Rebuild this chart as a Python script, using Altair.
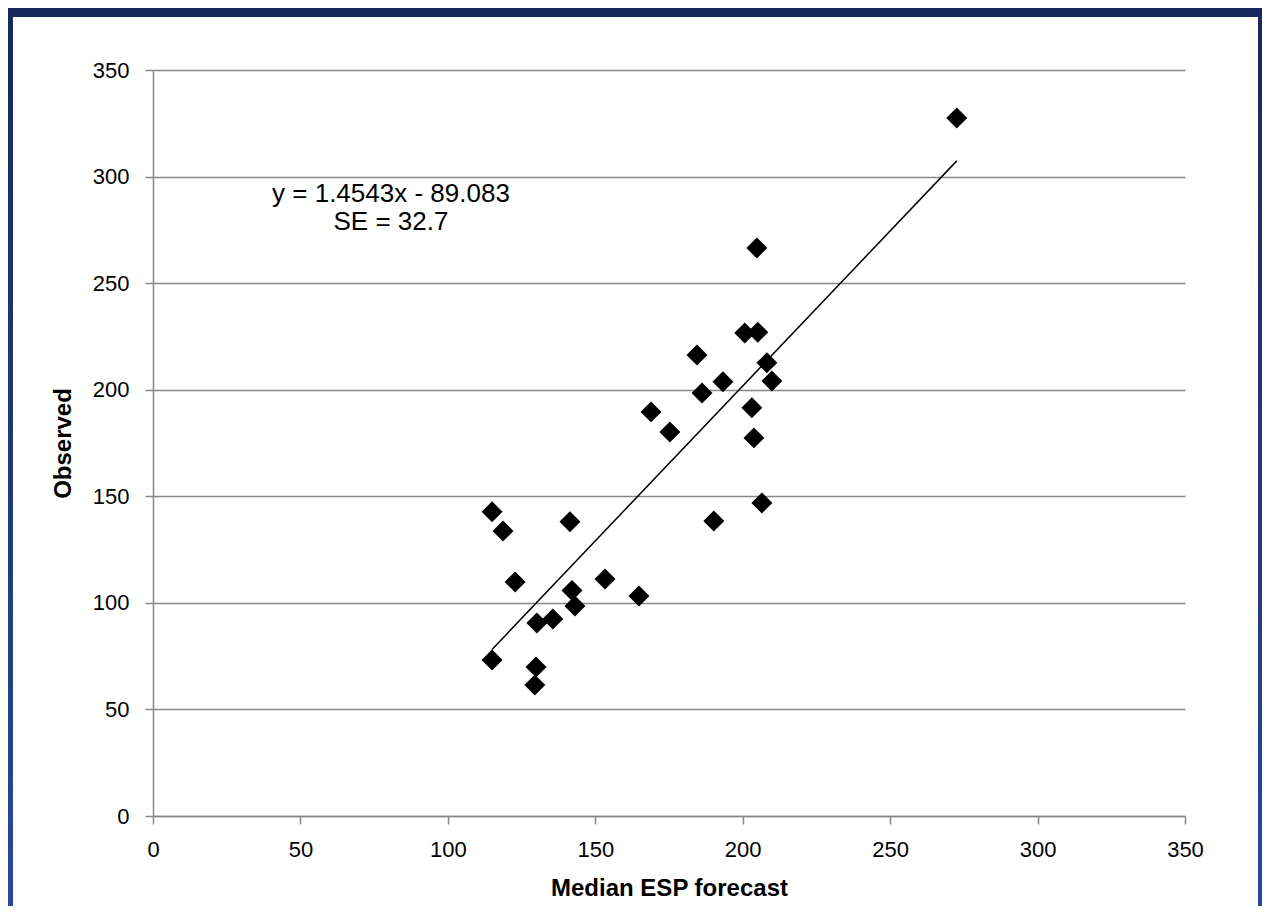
import altair as alt
import pandas as pd

# ---- data ----
x_vals = [272.6, 204.8, 200.7, 205.1, 184.5, 208.2, 193.3, 209.9, 186.2, 168.9,
          203.1, 175.3, 203.8, 206.5, 190.2, 115.0, 118.7, 141.4, 122.8, 153.3,
          142.1, 143.1, 164.8, 130.2, 135.6, 115.0, 129.9, 129.5]
y_vals = [327.5, 266.5, 226.6, 227.0, 216.3, 212.6, 203.7, 204.1, 198.5, 189.6,
          191.5, 180.2, 177.4, 146.9, 138.4, 142.7, 133.7, 138.0, 109.8, 111.2,
          105.8, 98.5, 103.2, 90.6, 92.4, 73.2, 69.9, 61.5]
slope = 1.4543
intercept = -89.083
eq_lines = ["y = 1.4543x - 89.083", "SE = 32.7"]
eq_x = [80.7, 80.7]
eq_y = [292.0, 278.5]
tick_vals = [0, 50, 100, 150, 200, 250, 300, 350]

W, H = 1032, 746
FONT = "Liberation Sans"
GRAY = "#878787"

points = pd.DataFrame({"x": x_vals, "y": y_vals})
fit_x = [min(x_vals), max(x_vals)]
fit = pd.DataFrame({"x": fit_x, "y": [slope * v + intercept for v in fit_x]})
eq = pd.DataFrame({"x": eq_x, "y": eq_y, "t": eq_lines})
dummy = pd.DataFrame({"a": [0]})

xscale = alt.Scale(domain=[0, 350], nice=False, zero=False)
yscale = alt.Scale(domain=[0, 350], nice=False, zero=False)

xaxis = alt.Axis(values=tick_vals, title="Median ESP forecast", grid=False,
                 domain=True, domainColor=GRAY, domainWidth=1.5,
                 ticks=True, tickSize=8, tickColor=GRAY, tickWidth=1.5,
                 labelFlush=False, labelOverlap=False,
                 labelPadding=15, labelFontSize=22, labelFont=FONT, labelColor="black",
                 titleFont=FONT, titleFontSize=24, titleFontWeight="bold",
                 titleColor="black", titlePadding=16)
yaxis = alt.Axis(values=tick_vals, title="Observed", grid=True, gridColor=GRAY,
                 gridWidth=1.5, domain=True, domainColor=GRAY, domainWidth=1.5,
                 ticks=True, tickSize=8, tickColor=GRAY, tickWidth=1.5,
                 labelFlush=False, labelOverlap=False,
                 labelPadding=16, labelFontSize=22, labelFont=FONT, labelColor="black",
                 titleFont=FONT, titleFontSize=24, titleFontWeight="bold",
                 titleColor="black", titlePadding=17)

grad = alt.Gradient(
    gradient="linear",
    stops=[alt.GradientStop(color="#17285e", offset=0),
           alt.GradientStop(color="#2a4896", offset=1)],
    x1=0, x2=0, y1=0, y2=1,
)

left_strip = alt.Chart(dummy).mark_rect(fill=grad).encode(
    x=alt.value(-145), x2=alt.value(-140), y=alt.value(-62), y2=alt.value(H + 90))
right_strip = alt.Chart(dummy).mark_rect(fill=grad).encode(
    x=alt.value(1105), x2=alt.value(1109), y=alt.value(-62), y2=alt.value(H + 90))
top_strip = alt.Chart(dummy).mark_rect(fill="#17285e").encode(
    x=alt.value(-145), x2=alt.value(1109), y=alt.value(-62), y2=alt.value(-53))

line = alt.Chart(fit).mark_line(color="black", strokeWidth=1.5).encode(
    x=alt.X("x:Q", scale=xscale, axis=xaxis),
    y=alt.Y("y:Q", scale=yscale, axis=yaxis),
)
scatter = alt.Chart(points).mark_point(
    shape="diamond", filled=True, color="black", size=440, opacity=1
).encode(x=alt.X("x:Q", scale=xscale), y=alt.Y("y:Q", scale=yscale))

label = alt.Chart(eq).mark_text(
    font=FONT, fontSize=26, color="black", align="center", baseline="middle"
).encode(x=alt.X("x:Q", scale=xscale), y=alt.Y("y:Q", scale=yscale), text="t:N")

chart = alt.layer(left_strip, right_strip, top_strip, line, scatter, label).properties(
    width=W, height=H,
    autosize=alt.AutoSizeParams(type="none"),
    padding={"left": 145, "top": 62, "right": 77, "bottom": 90},
    background="white",
).configure_view(stroke=None)

chart.save("out.html", embed_options={"renderer": "svg", "actions": False})
